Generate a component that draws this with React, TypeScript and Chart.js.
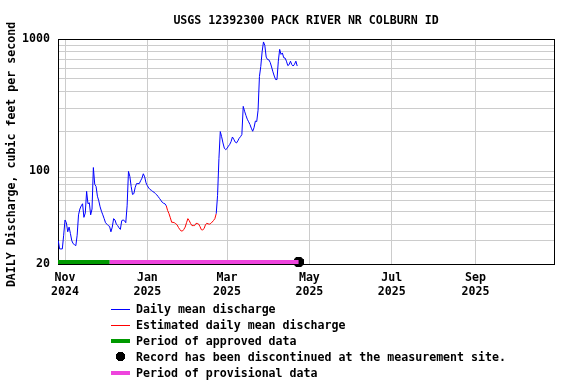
import React, { useEffect, useRef } from "react";
import { Chart, registerables } from "chart.js";

Chart.register(...registerables);

// ---- data (day numbers are days since 2024-11-01) ----
const FIRST_DAY = -5; // 2024-10-27
const dailyMeanCfs = [
  30, 26, 26, 26, 33,
  43, 41, 35, 38, 34, 30, 28.5, 28, 27.5, 33,
  47, 52, 55, 57, 45, 48.5, 70.7, 57, 58, 47,
  52, 107, 80, 77, 65, 60, 54, 50, 47, 44,
  41, 40, 39, 38.5, 35, 38, 44, 43, 40, 39,
  37.5, 36.5, 42.5, 43, 42.5, 41, 55, 100, 92, 77,
  67, 68, 76, 81, 81, 81, 85, 89, 96, 91,
  82, 78, 75, 73, 72, 70.5, 69.5, 68, 66.5, 64.5,
  62.5, 60.5, 58.5, 57.5, 57, 55, 50.7, 48, 44.7, 41.3,
  41.3, 41, 40.3, 39.5, 37.8, 36.5, 35.5, 35.5, 36.5, 38,
  41, 44, 42.5, 40.5, 39, 39, 39, 40.5, 40.5, 40,
  38.3, 36.3, 36.2, 37, 39.5, 40.6, 40.2, 40, 40.5, 41.5,
  42.6, 44, 48, 66, 125, 200, 183, 164, 150, 146,
  149, 155, 160, 168, 182, 175, 167, 164, 170, 178,
  183, 190, 310, 285, 265, 248, 237, 226, 212, 201,
  214, 240, 238, 290, 520, 620, 800, 950, 895, 730,
  700, 696, 665, 615, 565, 525, 494, 494, 680, 835,
  765, 785, 722, 718, 680, 630, 640, 680, 640, 625,
  645, 680, 625,
];
const ESTIMATED_FIRST_DAY = 75;
const ESTIMATED_LAST_DAY = 112;
const APPROVED_END_DAY = 33;
const DISCONTINUED_DAY = 173;

const X_MIN = -5.2;
const X_MAX = 362.2;
const Y_MIN = 20;
const Y_MAX = 1000;
const STATUS_LEVEL = 20.7;

const monthTickDays = [0, 61, 120, 181, 242, 304];
const monthTickLabels = [
  ["Nov", "2024"],
  ["Jan", "2025"],
  ["Mar", "2025"],
  ["May", "2025"],
  ["Jul", "2025"],
  ["Sep", "2025"],
];
const yGridValues = [20, 30, 40, 50, 60, 70, 80, 90, 100, 200, 300, 400, 500, 600, 700, 800, 900, 1000];
const yLabeledValues = [20, 100, 1000];

const TITLE = "USGS 12392300 PACK RIVER NR COLBURN ID";
const Y_TITLE = "DAILY Discharge, cubic feet per second";

const BLUE = "#0000ff";
const RED = "#ff0000";
const GREEN = "#009900";
const PINK = "#ee44dd";
const FONT_FAMILY = "'DejaVu Sans Mono', monospace";
const FONT_SIZE = 11.6;

const legendItems = [
  { kind: "line", color: BLUE, label: "Daily mean discharge" },
  { kind: "line", color: RED, label: "Estimated daily mean discharge" },
  { kind: "bar", color: GREEN, label: "Period of approved data" },
  { kind: "plus", color: "#000000", label: "Record has been discontinued at the measurement site." },
  { kind: "bar", color: PINK, label: "Period of provisional data" },
];

function makePlusImage(): HTMLCanvasElement {
  const c = document.createElement("canvas");
  c.width = 10;
  c.height = 10;
  const g = c.getContext("2d")!;
  g.fillStyle = "#000";
  g.fillRect(0, 2, 10, 6);
  g.fillRect(2, 0, 6, 10);
  g.fillRect(1, 1, 8, 8);
  return c;
}

const framePlugin = {
  id: "frame",
  beforeDatasetsDraw(chart: any) {
    const { ctx, chartArea } = chart;
    ctx.save();
    ctx.strokeStyle = "#000";
    ctx.lineWidth = 1;
    ctx.strokeRect(
      Math.round(chartArea.left) + 0.5,
      Math.round(chartArea.top) + 0.5,
      Math.round(chartArea.right - chartArea.left),
      Math.round(chartArea.bottom - chartArea.top)
    );
    ctx.restore();
  },
  afterDraw(chart: any) {
    const { ctx, chartArea } = chart;
    ctx.save();
    ctx.fillStyle = "#000";
    ctx.font = `bold ${FONT_SIZE}px ${FONT_FAMILY}`;
    ctx.textAlign = "center";
    ctx.textBaseline = "middle";
    ctx.translate(12, (chartArea.top + chartArea.bottom) / 2 + 3);
    ctx.rotate(-Math.PI / 2);
    ctx.fillText(Y_TITLE, 0, 0);
    ctx.restore();
  },
};

export default function App() {
  const canvasRef = useRef<HTMLCanvasElement | null>(null);

  useEffect(() => {
    if (!canvasRef.current) return;
    const blueData: any[] = [];
    const redData: any[] = [];
    dailyMeanCfs.forEach((v, i) => {
      const day = FIRST_DAY + i;
      const est = day >= ESTIMATED_FIRST_DAY && day <= ESTIMATED_LAST_DAY;
      const estInterior = day > ESTIMATED_FIRST_DAY && day < ESTIMATED_LAST_DAY;
      blueData.push({ x: day, y: estInterior ? null : v });
      if (est) redData.push({ x: day, y: v });
    });

    const font = { family: FONT_FAMILY, size: FONT_SIZE, weight: "bold" as const, lineHeight: 1.18 };

    const chart = new Chart(canvasRef.current, {
      type: "line",
      data: {
        datasets: [
          {
            label: "Daily mean discharge",
            data: blueData,
            borderColor: BLUE,
            borderWidth: 1,
            pointRadius: 0,
            spanGaps: false,
          },
          {
            label: "Estimated daily mean discharge",
            data: redData,
            borderColor: RED,
            borderWidth: 1,
            pointRadius: 0,
          },
          {
            label: "Period of approved data",
            data: [
              { x: X_MIN, y: STATUS_LEVEL },
              { x: APPROVED_END_DAY, y: STATUS_LEVEL },
            ],
            borderColor: GREEN,
            borderWidth: 4,
            pointRadius: 0,
            borderCapStyle: "butt",
          },
          {
            label: "Period of provisional data",
            data: [
              { x: APPROVED_END_DAY, y: STATUS_LEVEL },
              { x: DISCONTINUED_DAY, y: STATUS_LEVEL },
            ],
            borderColor: PINK,
            borderWidth: 4,
            pointRadius: 0,
            borderCapStyle: "butt",
          },
          {
            label: "Record has been discontinued at the measurement site.",
            data: [{ x: DISCONTINUED_DAY, y: STATUS_LEVEL }],
            showLine: false,
            pointStyle: makePlusImage(),
            pointRadius: 5,
            borderColor: "#000",
            clip: false,
          } as any,
        ],
      },
      options: {
        animation: false,
        responsive: false,
        events: [],
        layout: { padding: { top: 39, right: 22, left: 0, bottom: 0 } },
        plugins: {
          legend: { display: false },
          tooltip: { enabled: false },
          title: { display: false },
        },
        scales: {
          x: {
            type: "linear",
            min: X_MIN,
            max: X_MAX,
            border: { display: false },
            grid: { color: "#cccccc", lineWidth: 1, drawTicks: false },
            afterBuildTicks: (scale: any) => {
              scale.ticks = monthTickDays.map((v) => ({ value: v }));
            },
            afterFit: (scale: any) => {
              scale.height = 120;
            },
            ticks: {
              autoSkip: false,
              maxRotation: 0,
              padding: 7,
              color: "#000",
              font,
              callback: (v: any) => {
                const idx = monthTickDays.indexOf(Number(v));
                return idx >= 0 ? monthTickLabels[idx] : "";
              },
            },
          },
          y: {
            type: "logarithmic",
            min: Y_MIN,
            max: Y_MAX,
            border: { display: false },
            grid: { color: "#cccccc", lineWidth: 1, drawTicks: false },
            afterBuildTicks: (scale: any) => {
              scale.ticks = yGridValues.map((v) => ({ value: v }));
            },
            afterFit: (scale: any) => {
              scale.width = 58;
            },
            ticks: {
              autoSkip: false,
              padding: 8,
              color: "#000",
              font,
              callback: (v: any) => (yLabeledValues.includes(Number(v)) ? String(v) : ""),
            },
          },
        },
      },
      plugins: [framePlugin],
    } as any);

    return () => chart.destroy();
  }, []);

  const textStyle: React.CSSProperties = {
    fontFamily: FONT_FAMILY,
    fontSize: FONT_SIZE + "px",
    fontWeight: "bold",
    color: "#000",
    whiteSpace: "pre",
  };

  return (
    <div style={{ position: "absolute", left: 0, top: 0, width: 576, height: 384, background: "#fff" }}>
      <canvas ref={canvasRef} width={576} height={384} style={{ display: "block", width: 576, height: 384 }} />
      <div
        style={{
          ...textStyle,
          position: "absolute",
          left: 58,
          width: 496,
          top: 13,
          lineHeight: "15px",
          textAlign: "center",
        }}
      >
        {TITLE}
      </div>
      <div style={{ position: "absolute", left: 111, top: 301 }}>
        {legendItems.map((item) => (
          <div key={item.label} style={{ display: "flex", alignItems: "center", height: 16 }}>
            <div style={{ position: "relative", width: 19, height: 16, marginRight: 6 }}>
              {item.kind === "line" && (
                <div
                  style={{
                    position: "absolute",
                    left: 0,
                    top: 8,
                    width: 19,
                    height: 0,
                    borderTop: `1px solid ${item.color}`,
                  }}
                />
              )}
              {item.kind === "bar" && (
                <div style={{ position: "absolute", left: 0, top: 6, width: 19, height: 4, backgroundColor: item.color }} />
              )}
              {item.kind === "plus" && (
                <>
                  <div style={{ position: "absolute", left: 5, top: 5, width: 9, height: 5, backgroundColor: item.color }} />
                  <div style={{ position: "absolute", left: 7, top: 3, width: 5, height: 9, backgroundColor: item.color }} />
                  <div style={{ position: "absolute", left: 6, top: 4, width: 7, height: 7, backgroundColor: item.color }} />
                </>
              )}
            </div>
            <span style={{ ...textStyle, lineHeight: "16px" }}>{item.label}</span>
          </div>
        ))}
      </div>
    </div>
  );
}
